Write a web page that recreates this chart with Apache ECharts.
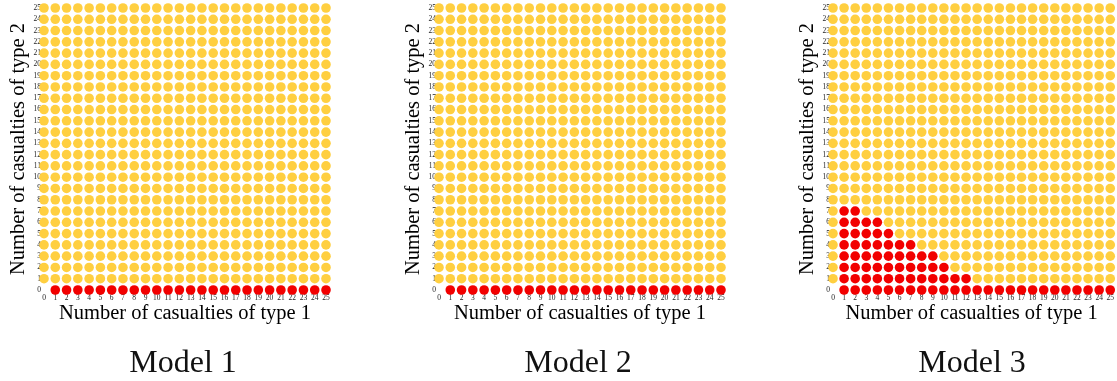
<!DOCTYPE html>
<html>
<head>
<meta charset="utf-8">
<style>
  html, body { margin: 0; padding: 0; background: #ffffff; }
  #chart { width: 1117px; height: 381px; }
</style>
<script src="https://cdn.jsdelivr.net/npm/echarts@6/dist/echarts.min.js"></script>
</head>
<body>
<div id="chart"></div>
<script>
// Casualty counts shown on both axes
const casualtyCounts = [0, 1, 2, 3, 4, 5, 6, 7, 8, 9, 10, 11, 12, 13, 14, 15, 16, 17, 18, 19, 20, 21, 22, 23, 24, 25];

// Panel titles
const modelNames = ['Model 1', 'Model 2', 'Model 3'];

// For each count of type-2 casualties (row 0..25): largest type-1 count marked red (0 = none)
const model1RedUpTo = [25, 0, 0, 0, 0, 0, 0, 0, 0, 0, 0, 0, 0, 0, 0, 0, 0, 0, 0, 0, 0, 0, 0, 0, 0, 0];
const model2RedUpTo = [25, 0, 0, 0, 0, 0, 0, 0, 0, 0, 0, 0, 0, 0, 0, 0, 0, 0, 0, 0, 0, 0, 0, 0, 0, 0];
const model3RedUpTo = [25, 12, 10, 9, 7, 5, 4, 2, 0, 0, 0, 0, 0, 0, 0, 0, 0, 0, 0, 0, 0, 0, 0, 0, 0, 0];

const xAxisName = 'Number of casualties of type 1';
const yAxisName = 'Number of casualties of type 2';

const YELLOW = '#FFCF40';
const RED = '#F20000';
const SERIF = '"Liberation Serif", "DejaVu Serif", serif';

// Split the grid (excluding the empty origin) into red and yellow points
function splitPoints(redUpTo) {
  const red = [], yellow = [];
  casualtyCounts.forEach(function (y) {
    casualtyCounts.forEach(function (x) {
      if (x === 0 && y === 0) return;
      if (x >= 1 && x <= redUpTo[y]) red.push([x, y]);
      else yellow.push([x, y]);
    });
  });
  return { red: red, yellow: yellow };
}

const panels = [model1RedUpTo, model2RedUpTo, model3RedUpTo];
const panelLeft = [44, 439, 833];
const cell = 11.28;
const plotSize = cell * 25;
const plotTop = 8;

const grids = [], xAxes = [], yAxes = [], series = [], titles = [];

panels.forEach(function (redUpTo, i) {
  grids.push({ left: panelLeft[i], top: plotTop, width: plotSize, height: plotSize });
  const axisCommon = {
    type: 'value', min: 0, max: 25, interval: 1,
    gridIndex: i,
    axisLine: { show: false }, axisTick: { show: false }, splitLine: { show: false },
    nameLocation: 'middle',
    nameMoveOverlap: false,
    nameTextStyle: { fontFamily: SERIF, fontSize: 20.5, color: '#000' },
    axisLabel: { fontFamily: SERIF, fontSize: 7.5, color: '#222', showMinLabel: true, showMaxLabel: true }
  };
  xAxes.push(Object.assign({}, axisCommon, {
    name: xAxisName, nameGap: 13,
    axisLabel: Object.assign({}, axisCommon.axisLabel, { margin: 4 })
  }));
  yAxes.push(Object.assign({}, axisCommon, {
    name: yAxisName, nameGap: 15,
    axisLabel: Object.assign({}, axisCommon.axisLabel, { margin: 3 })
  }));
  const pts = splitPoints(redUpTo);
  series.push({
    type: 'scatter', xAxisIndex: i, yAxisIndex: i, data: pts.yellow,
    symbolSize: 9.6, itemStyle: { color: YELLOW, opacity: 1 }, clip: false, silent: true
  });
  series.push({
    type: 'scatter', xAxisIndex: i, yAxisIndex: i, data: pts.red,
    symbolSize: 9.6, itemStyle: { color: RED, opacity: 1 }, clip: false, silent: true
  });
  titles.push({
    text: modelNames[i],
    left: panelLeft[i] + plotSize / 2 - 7, top: 343,
    textAlign: 'center',
    textStyle: { fontFamily: SERIF, fontSize: 32, fontWeight: 'normal', color: '#111' }
  });
});

const chart = echarts.init(document.getElementById('chart'));
chart.setOption({
  animation: false,
  backgroundColor: '#ffffff',
  title: titles,
  grid: grids,
  xAxis: xAxes,
  yAxis: yAxes,
  series: series
});
</script>
</body>
</html>
